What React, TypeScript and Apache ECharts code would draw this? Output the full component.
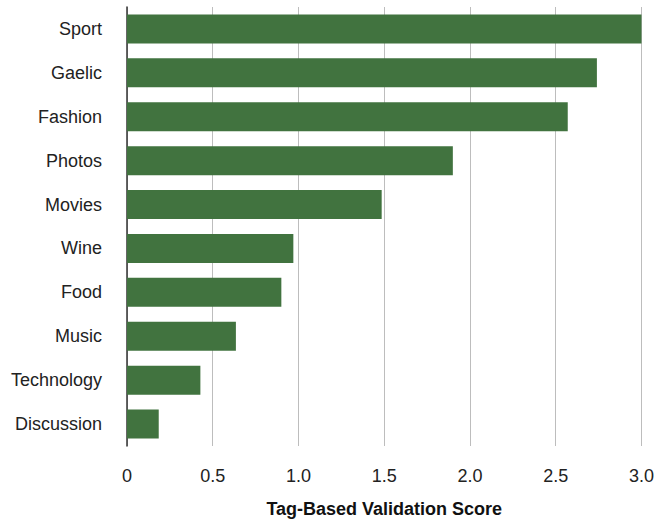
import React, { useEffect, useRef } from "react";
import * as echarts from "echarts";

const categories = ["Sport", "Gaelic", "Fashion", "Photos", "Movies", "Wine", "Food", "Music", "Technology", "Discussion"];
const scores = [3.0, 2.74, 2.57, 1.9, 1.485, 0.97, 0.9, 0.635, 0.428, 0.185];
const axisTitle = "Tag-Based Validation Score";

export default function App() {
  const ref = useRef<HTMLDivElement>(null);
  useEffect(() => {
    document.body.style.margin = "0";
    const chart = echarts.init(ref.current!, undefined, { renderer: "svg" });
    chart.setOption({
      animation: false,
      textStyle: { fontFamily: "Liberation Sans, Arial, sans-serif" },
      grid: { left: 127, right: 11, top: 7, bottom: 69, containLabel: false },
      xAxis: {
        type: "value",
        min: 0,
        max: 3,
        interval: 0.5,
        name: axisTitle,
        nameLocation: "middle",
        nameGap: 54,
        nameTextStyle: { fontSize: 18, fontWeight: "bold", color: "#111" },
        axisLine: { show: false },
        axisTick: { show: false },
        axisLabel: {
          fontSize: 18,
          color: "#222",
          margin: 21,
          formatter: (v: number) => (v === 0 ? "0" : v.toFixed(1)),
        },
        splitLine: { show: true, lineStyle: { color: "#bdbdbd", width: 1 } },
      },
      yAxis: {
        type: "category",
        data: categories,
        inverse: true,
        axisLine: { show: true, lineStyle: { color: "#333", width: 1.5 } },
        axisTick: { show: false },
        axisLabel: { fontSize: 18, color: "#222", margin: 25, padding: [0, 0, -3, 0] },
        splitLine: { show: false },
      },
      series: [
        {
          type: "bar",
          data: scores,
          barWidth: "66%",
          itemStyle: { color: "#41733f" },
        },
      ],
    });
    return () => chart.dispose();
  }, []);
  return <div ref={ref} style={{ width: 657, height: 523 }} />;
}
